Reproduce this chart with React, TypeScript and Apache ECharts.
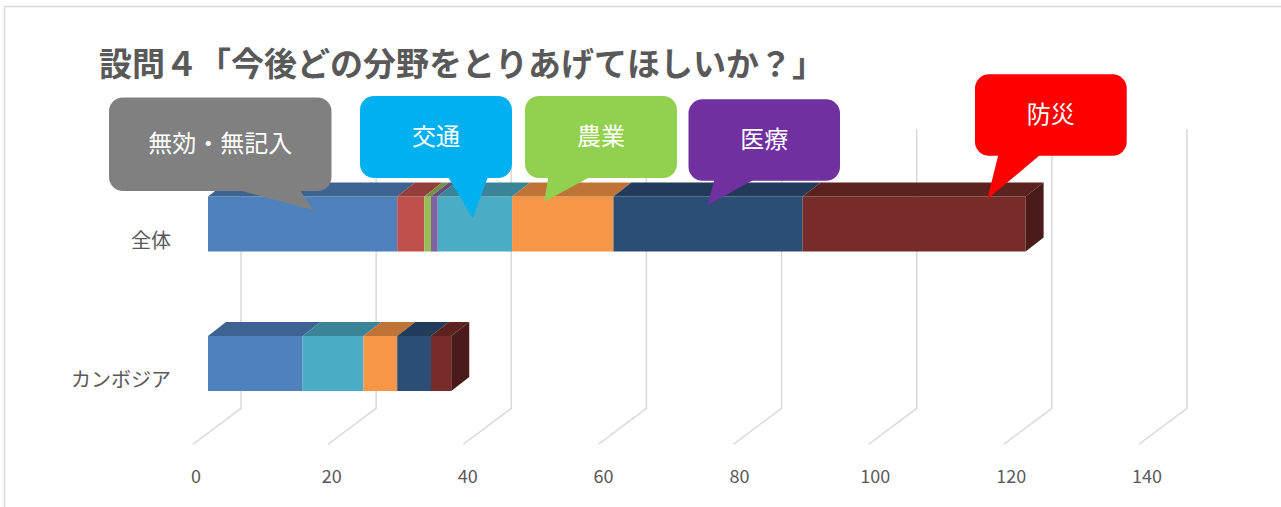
import React, { useEffect, useRef } from "react";
import * as echarts from "echarts";

const categories = ["全体", "カンボジア"];
const seriesNames = ["無効・無記入", "系列2", "系列3", "系列4", "交通", "農業", "医療", "防災"];
const seriesColors = ["#4F81BD", "#C0504D", "#9BBB59", "#8064A2", "#4BACC6", "#F79646", "#2C4D75", "#772C2A"];
const valuesZentai = [28, 4, 1, 1, 11, 15, 28, 33];
const valuesCambodia = [14, 0, 0, 0, 9, 5, 5, 3];
const tickValues = [0, 20, 40, 60, 80, 100, 120, 140];
const titleText = "設問４「今後どの分野をとりあげてほしいか？」";

const FONT = "'Noto Sans CJK JP', 'Noto Sans', sans-serif";
const GRID_LEFT = 208;
const GRID_WIDTH = 946;
const GRID_TOP = 154.25;
const GRID_HEIGHT = 279;
const BAR_DX = 18;
const BAR_DY = 14;
const WALL_DX = 33;
const WALL_DY = 25;
const FLOOR_DX = 15;
const FLOOR_DY = 11;

function shade(hex: string, f: number): string {
  const n = parseInt(hex.slice(1), 16);
  const r = Math.round(((n >> 16) & 255) * f);
  const g = Math.round(((n >> 8) & 255) * f);
  const b = Math.round((n & 255) * f);
  return "rgb(" + r + "," + g + "," + b + ")";
}

function callout(cfg: {
  x: number; y: number; w: number; h: number; color: string; text: string;
  tail: number[][];
}) {
  return {
    type: "group",
    z: 100,
    children: [
      { type: "rect", shape: { x: cfg.x, y: cfg.y, width: cfg.w, height: cfg.h, r: 14 }, style: { fill: cfg.color }, z: 100 },
      { type: "polygon", shape: { points: cfg.tail }, style: { fill: cfg.color }, z: 100 },
      {
        type: "text", z: 101,
        x: cfg.x + cfg.w / 2, y: cfg.y + cfg.h / 2 - 3,
        style: { text: cfg.text, fill: "#ffffff", font: "24px " + FONT, textAlign: "center", textVerticalAlign: "middle" },
      },
    ],
  };
}

export default function App() {
  const ref = useRef<HTMLDivElement>(null);
  useEffect(() => {
    if (!ref.current) return;
    const chart = echarts.init(ref.current, undefined, { renderer: "svg" });
    const allValues = [valuesZentai, valuesCambodia];
    const totals = allValues.map((vs) => vs.reduce((a, b) => a + b, 0));

    const barSeries = seriesNames.map((name, si) => {
      const data: number[][] = [];
      allValues.forEach((vs, ci) => {
        const start = vs.slice(0, si).reduce((a, b) => a + b, 0);
        if (vs[si] > 0) data.push([start, start + vs[si], ci]);
      });
      const color = seriesColors[si];
      return {
        type: "custom",
        name,
        xAxisIndex: 0,
        yAxisIndex: 0,
        z: 3,
        clip: false,
        encode: { x: [0, 1], y: 2 },
        data,
        renderItem: (params: any, api: any) => {
          const s = api.value(0);
          const e = api.value(1);
          const c = api.value(2);
          const p0 = api.coord([s, c]);
          const p1 = api.coord([e, c]);
          const h = api.size([0, 1])[1] * 0.395;
          const yT = p0[1] - h / 2;
          const yB = p0[1] + h / 2;
          const x0 = p0[0];
          const x1 = p1[0];
          const children: any[] = [
            { type: "rect", shape: { x: x0, y: yT, width: x1 - x0, height: h }, style: { fill: color } },
            {
              type: "polygon",
              shape: { points: [[x0, yT], [x1, yT], [x1 + BAR_DX, yT - BAR_DY], [x0 + BAR_DX, yT - BAR_DY]] },
              style: { fill: shade(color, 0.77) },
            },
          ];
          if (Math.abs(e - totals[c]) < 1e-6) {
            children.push({
              type: "polygon",
              shape: { points: [[x1, yT], [x1 + BAR_DX, yT - BAR_DY], [x1 + BAR_DX, yB - BAR_DY], [x1, yB]] },
              style: { fill: shade(color, 0.62) },
            });
          }
          return { type: "group", children };
        },
      };
    });

    const gridSeries = {
      type: "custom",
      name: "grid",
      xAxisIndex: 0,
      yAxisIndex: 0,
      z: 1,
      clip: false,
      silent: true,
      encode: { x: 0, y: 1 },
      data: tickValues.map((v) => [v, 0]),
      renderItem: (params: any, api: any) => {
        const cs = params.coordSys;
        const x = api.coord([api.value(0), 0])[0];
        const top = cs.y;
        const bottom = cs.y + cs.height;
        return {
          type: "polyline",
          shape: {
            points: [
              [x + WALL_DX, top - WALL_DY],
              [x + WALL_DX, bottom - WALL_DY],
              [x - FLOOR_DX, bottom + FLOOR_DY],
            ],
          },
          style: { stroke: "#d9d9d9", lineWidth: 1.5, fill: "none" },
        };
      },
    };

    chart.setOption({
      animation: false,
      backgroundColor: "#ffffff",
      textStyle: { fontFamily: FONT },
      grid: [
        { left: GRID_LEFT, width: GRID_WIDTH, top: GRID_TOP, height: GRID_HEIGHT },
        { left: 196, width: 951, top: GRID_TOP, height: GRID_HEIGHT },
      ],
      xAxis: [
        {
          type: "value", gridIndex: 0, min: 0, max: 140, interval: 20,
          axisLabel: { show: false }, axisLine: { show: false }, axisTick: { show: false }, splitLine: { show: false },
        },
        {
          type: "value", gridIndex: 1, min: 0, max: 140, interval: 20,
          axisLabel: { show: true, color: "#595959", fontSize: 18, margin: 33, fontFamily: FONT },
          axisLine: { show: false }, axisTick: { show: false }, splitLine: { show: false },
        },
      ],
      yAxis: [
        {
          type: "category", gridIndex: 0, data: categories, inverse: true,
          axisLine: { show: false }, axisTick: { show: false }, splitLine: { show: false },
          axisLabel: {
            margin: 37,
            formatter: (v: string) => "{a|" + v + "}",
            rich: { a: { color: "#595959", fontSize: 20, fontFamily: FONT, padding: [30, 0, 0, 0] } },
          },
        },
        {
          type: "category", gridIndex: 1, data: categories, inverse: true, show: false,
        },
      ],
      graphic: [
        {
          type: "rect", z: 0, silent: true,
          shape: { x: 4.5, y: 6.5, width: 1400, height: 600 },
          style: { fill: "none", stroke: "#d9d9d9", lineWidth: 1.5 },
        },
        {
          type: "text", z: 100, x: 99, y: 62,
          style: { text: titleText, fill: "#595959", font: "bold 33px " + FONT, textVerticalAlign: "middle" },
        },
        callout({ x: 109, y: 97.5, w: 222.5, h: 93.5, color: "#808080", text: "無効・無記入", tail: [[238, 190], [300, 190], [313, 210]] }),
        callout({ x: 360, y: 96, w: 152, h: 82, color: "#00B0F0", text: "交通", tail: [[448, 177], [488, 177], [472.7, 218.3]] }),
        callout({ x: 525, y: 96, w: 152, h: 82, color: "#92D050", text: "農業", tail: [[548.3, 177], [590, 177], [544.3, 201.7]] }),
        callout({ x: 688.5, y: 99.3, w: 151.5, h: 81.5, color: "#7030A0", text: "医療", tail: [[714.3, 180], [753.3, 180], [707.7, 205]] }),
        callout({ x: 975, y: 74.3, w: 151.7, h: 81.5, color: "#FF0000", text: "防災", tail: [[998.3, 155], [1040, 155], [987.3, 199.3]] }),
      ],
      series: [gridSeries, ...barSeries],
    });
    return () => chart.dispose();
  }, []);
  return <div ref={ref} style={{ position: "absolute", left: 0, top: 0, width: 1281, height: 507 }} />;
}
